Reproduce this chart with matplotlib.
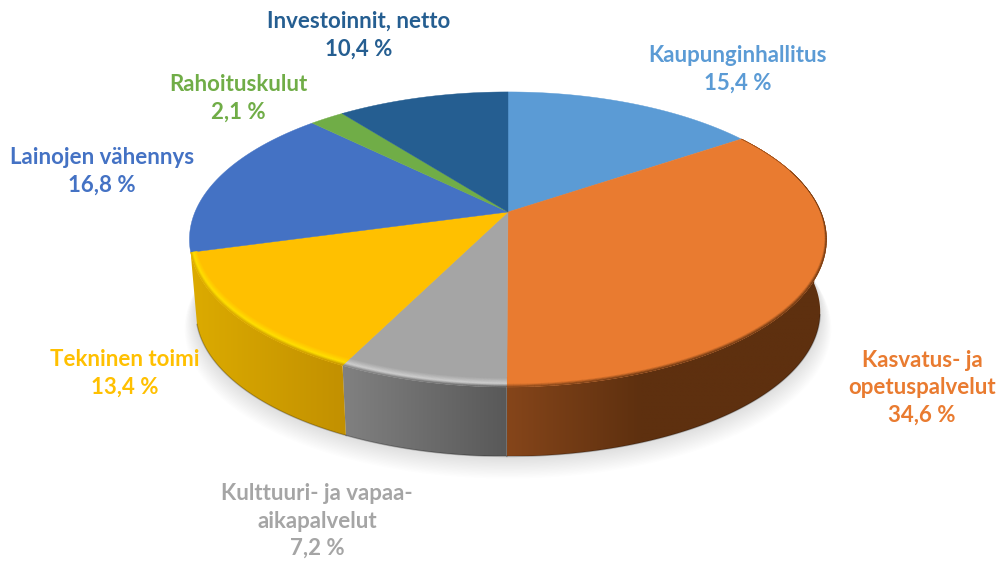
import numpy as np
import matplotlib
matplotlib.use('Agg')
import matplotlib.pyplot as plt
from matplotlib.collections import PolyCollection
from matplotlib.patches import Polygon
from matplotlib.colors import to_rgb

# osuudet myotapaivaan klo 12 alkaen
names = ['Kaupunginhallitus', 'Kasvatus- ja\nopetuspalvelut', 'Kulttuuri- ja vapaa-\naikapalvelut',
         'Tekninen toimi', 'Lainojen vähennys', 'Rahoituskulut', 'Investoinnit, netto']
shares = [15.4, 34.6, 7.2, 13.4, 16.8, 2.1, 10.4]
pct_text = ['15,4 %', '34,6 %', '7,2 %', '13,4 %', '16,8 %', '2,1 %', '10,4 %']
colors = ['#5b9bd5', '#e97b30', '#a5a5a5', '#ffc000', '#4472c4', '#70ad47', '#255e91']
label_pos = [(738, 69), (922, 388), (317, 521), (125, 373), (102, 171), (238, 98), (359, 35)]

# sivuseinan liuku: vasen x, oikea x, vasen vari, oikea vari
wall_grad = {1: (508, 640, '#85451a', '#5e300f'),
             2: (345, 508, '#808080', '#585858'),
             3: (190, 345, '#dcab00', '#c29000')}
highlight = {1: '#e97b30', 2: '#d2d2d2', 3: '#ffe200'}

cx, cy = 508, 212
A, B, p = 313, 142.4, 0.186
depth, bottom_scale = 73, 0.98


def project(th, r=1.0, shift=0.0, scale=1.0):
    u = r * np.sin(th)
    v = r * np.cos(th)
    d = 1 + p * v
    return cx + scale * A * u / d, cy + shift - scale * B * v / d


def lerp(c1, c2, t):
    c1, c2 = np.array(to_rgb(c1)), np.array(to_rgb(c2))
    return tuple(c1 + (c2 - c1) * t)


def wall_color(i, x):
    x0, x1, c0, c1 = wall_grad[i]
    return lerp(c0, c1, np.clip((x - x0) / (x1 - x0), 0, 1))


fig = plt.figure(figsize=(10.01, 5.63), dpi=100)
ax = fig.add_axes([0, 0, 1, 1])
ax.set_xlim(0, 1001)
ax.set_ylim(563, 0)
ax.axis('off')

edges = np.cumsum([0] + shares) / sum(shares) * 2 * np.pi

# pehmea varjo
tt = np.linspace(0, 2 * np.pi, 300)
for k in range(16, 0, -1):
    x, y = project(tt, shift=depth + k * 1.0, scale=bottom_scale + k * 0.0022)
    ax.fill(x, y, color='k', alpha=0.009, lw=0, zorder=1)

# sivuseinat, vain etupuoli
for i in wall_grad:
    th = np.linspace(edges[i], edges[i + 1], 200)
    th = th[np.cos(th) < 0.02]
    x1, y1 = project(th)
    x2, y2 = project(th, shift=depth, scale=bottom_scale)
    xs = np.linspace(min(x1.min(), x2.min()), max(x1.max(), x2.max()), 200)
    grad = np.array([[wall_color(i, q) for q in xs]])
    im = ax.imshow(grad, extent=[xs[0], xs[-1], max(y1.max(), y2.max()), min(y1.min(), y2.min())],
                   aspect='auto', interpolation='bilinear', zorder=2)
    poly = Polygon(np.c_[np.r_[x1, x2[::-1]], np.r_[y1, y2[::-1]]], closed=True, transform=ax.transData)
    im.set_clip_path(poly)
    # tumma reuna alhaalla
    front = np.cos(th) < -0.2
    ax.plot(x2[front], y2[front], color='k', alpha=0.25, lw=1, zorder=2.5)
ax.set_xlim(0, 1001)
ax.set_ylim(563, 0)

# ylapinta
for i in range(len(shares)):
    th = np.linspace(edges[i], edges[i + 1], 160)
    x, y = project(th)
    ax.fill(np.r_[cx, x], np.r_[cy, y], color=colors[i], lw=0.3, zorder=3)

# viiste etureunassa
levels = np.linspace(0, 1, 13)
for i in wall_grad:
    th = np.linspace(edges[i], edges[i + 1], 120)
    v = np.cos(th)
    w = (0.012 + 0.03 * np.clip(-v, 0, 1)) * np.clip((0.3 - v) / 0.4, 0, 1)
    quads, cols = [], []
    for a, b in zip(levels[:-1], levels[1:]):
        xa, ya = project(th, r=1 - w * (1 - a))
        xb, yb = project(th, r=1 - w * (1 - b))
        for j in range(len(th) - 1):
            quads.append([(xa[j], ya[j]), (xa[j + 1], ya[j + 1]), (xb[j + 1], yb[j + 1]), (xb[j], yb[j])])
            t = (a + b) / 2
            wc = wall_color(i, xa[j])
            if t < 0.65:
                cols.append(lerp(colors[i], highlight[i], t / 0.65))
            else:
                cols.append(lerp(highlight[i], wc, (t - 0.65) / 0.35))
    ax.add_collection(PolyCollection(quads, facecolors=cols, edgecolors=cols, linewidths=0.2, zorder=4))

for i in range(len(shares)):
    ax.text(label_pos[i][0], label_pos[i][1], names[i] + '\n' + pct_text[i], color=colors[i],
            family='Lato', weight='bold', fontsize=16, ha='center', va='center',
            linespacing=1.38, zorder=5)

fig.savefig('out.png', dpi=100)
